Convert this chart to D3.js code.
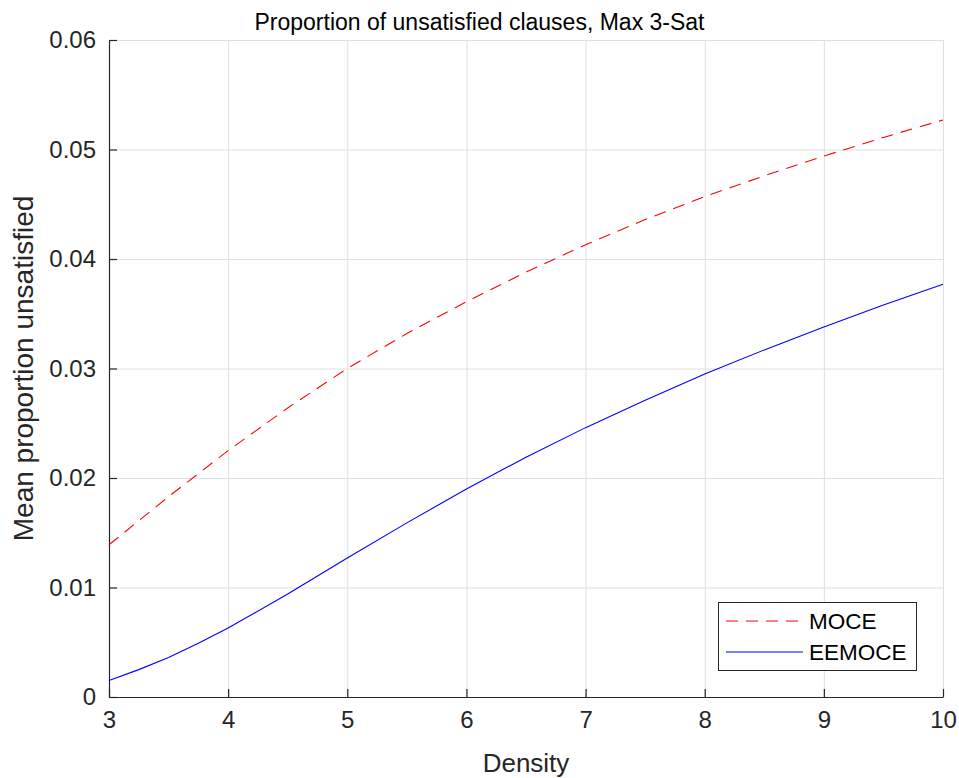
<!DOCTYPE html>
<html>
<head>
<meta charset="utf-8">
<script src="https://cdn.jsdelivr.net/npm/d3@7"></script>
<style>
  body { margin: 0; background: #fff; }
  svg text { font-family: "Liberation Sans", Arial, sans-serif; fill: #262626; }
</style>
</head>
<body>
<div id="chart"></div>
<script>
// densities sampled along each curve
var mocePoints = [3, 3.5, 4, 4.5, 5, 5.5, 6, 6.5, 7, 7.5, 8, 8.5, 9, 9.5, 10];
var moceValues = [0.0139, 0.0183, 0.0225, 0.0264, 0.0300, 0.0332, 0.0361, 0.0388, 0.0413, 0.0436, 0.0457, 0.0476, 0.0494, 0.0511, 0.0527];

var eemocePoints = [3, 3.25, 3.5, 3.75, 4, 4.5, 5, 5.5, 6, 6.5, 7, 7.5, 8, 8.5, 9, 9.5, 10];
var eemoceValues = [0.0015, 0.0025, 0.0036, 0.0049, 0.0063, 0.0094, 0.0127, 0.0159, 0.0190, 0.0219, 0.0246, 0.0271, 0.0295, 0.0317, 0.0338, 0.0358, 0.0377];

var xTicks = [3, 4, 5, 6, 7, 8, 9, 10];
var yTicks = [0, 0.01, 0.02, 0.03, 0.04, 0.05, 0.06];

var width = 959, height = 778;
var mLeft = 109, mRight = 943, mTop = 40, mBottom = 697;

var svg = d3.select("#chart")
  .append("svg")
  .attr("width", width)
  .attr("height", height);

var x = d3.scaleLinear().domain([3, 10]).range([mLeft, mRight]);
var y = d3.scaleLinear().domain([0, 0.06]).range([mBottom, mTop]);

// grid
svg.append("g")
  .selectAll("line")
  .data(xTicks)
  .enter()
  .append("line")
  .attr("x1", d => x(d) + 0.5).attr("x2", d => x(d) + 0.5)
  .attr("y1", mTop).attr("y2", mBottom)
  .attr("stroke", "#dfdfdf").attr("stroke-width", 1);

svg.append("g")
  .selectAll("line")
  .data(yTicks)
  .enter()
  .append("line")
  .attr("x1", mLeft).attr("x2", mRight)
  .attr("y1", d => y(d) + 0.5).attr("y2", d => y(d) + 0.5)
  .attr("stroke", "#dfdfdf").attr("stroke-width", 1);

// axes
var xAxis = d3.axisBottom(x)
  .tickValues(xTicks)
  .tickSizeInner(-8)
  .tickSizeOuter(0)
  .tickPadding(14)
  .tickFormat(d3.format("d"));

var yAxis = d3.axisLeft(y)
  .tickValues(yTicks)
  .tickSizeInner(-8)
  .tickSizeOuter(0)
  .tickPadding(13)
  .tickFormat(d => d === 0 ? "0" : d3.format(".2f")(d));

var gx = svg.append("g")
  .attr("transform", "translate(0," + mBottom + ")")
  .call(xAxis);

var gy = svg.append("g")
  .attr("transform", "translate(" + mLeft + ",0)")
  .call(yAxis);

[gx, gy].forEach(function (g) {
  g.select(".domain").attr("stroke", "#262626").attr("stroke-width", 1.2);
  g.selectAll(".tick line").attr("stroke", "#262626").attr("stroke-width", 1.2);
  g.selectAll(".tick text")
    .style("font-size", "24px")
    .style("font-family", "Liberation Sans, Arial, sans-serif")
    .attr("fill", "#262626");
});

// lines
var line = d3.line()
  .x(d => x(d[0]))
  .y(d => y(d[1]));

var moce = mocePoints.map((p, i) => [p, moceValues[i]]);
var eemoce = eemocePoints.map((p, i) => [p, eemoceValues[i]]);

svg.append("path")
  .datum(moce)
  .attr("d", line)
  .attr("fill", "none")
  .attr("stroke", "#ff0000")
  .attr("stroke-width", 1.1)
  .attr("stroke-dasharray", "12,8");

svg.append("path")
  .datum(eemoce)
  .attr("d", line)
  .attr("fill", "none")
  .attr("stroke", "#0000ff")
  .attr("stroke-width", 1.1);

// title and labels
svg.append("text")
  .attr("x", width / 2)
  .attr("y", 30)
  .attr("text-anchor", "middle")
  .style("font-size", "23px")
  .style("fill", "#000")
  .text("Proportion of unsatisfied clauses, Max 3-Sat");

svg.append("text")
  .attr("x", (mLeft + mRight) / 2)
  .attr("y", 772)
  .attr("text-anchor", "middle")
  .style("font-size", "26px")
  .text("Density");

svg.append("text")
  .attr("transform", "translate(33," + (mTop + mBottom) / 2 + ") rotate(-90)")
  .attr("text-anchor", "middle")
  .style("font-size", "28px")
  .text("Mean proportion unsatisfied");

// legend
var legend = svg.append("g");
legend.append("rect")
  .attr("x", 718.5).attr("y", 602.5)
  .attr("width", 198).attr("height", 68)
  .attr("fill", "#fff")
  .attr("stroke", "#262626").attr("stroke-width", 1);

var legendItems = [
  { name: "MOCE", color: "#ff0000", dash: "12,8" },
  { name: "EEMOCE", color: "#0000ff", dash: null }
];

legendItems.forEach(function (d, i) {
  var ly = 621 + i * 31;
  legend.append("line")
    .attr("x1", 726).attr("x2", 803)
    .attr("y1", ly).attr("y2", ly)
    .attr("stroke", d.color)
    .attr("stroke-width", 1.1)
    .attr("stroke-dasharray", d.dash);
  legend.append("text")
    .attr("x", 809)
    .attr("y", ly + 8)
    .style("font-size", "22.5px")
    .style("fill", "#000")
    .text(d.name);
});
</script>
</body>
</html>
